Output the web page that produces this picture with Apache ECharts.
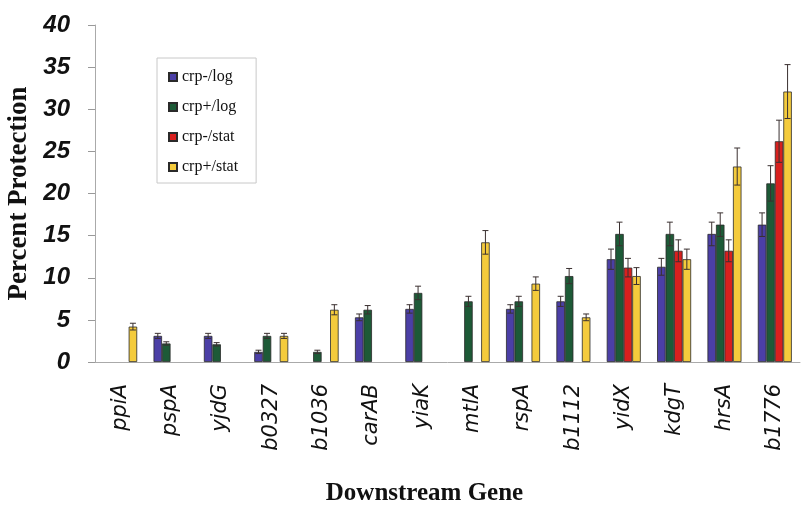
<!DOCTYPE html>
<html>
<head>
<meta charset="utf-8">
<script src="https://cdn.jsdelivr.net/npm/echarts@6/dist/echarts.min.js"></script>
<style>
  html, body { margin: 0; padding: 0; background: #fff; }
  #chart { width: 802px; height: 508px; }
</style>
</head>
<body>
<div id="chart"></div>
<script>
var genes = ['ppiA', 'pspA', 'yjdG', 'b0327', 'b1036', 'carAB', 'yiaK', 'mtlA', 'rspA', 'b1112', 'yidX', 'kdgT', 'hrsA', 'b1776'];
var seriesNames = ['crp-/log', 'crp+/log', 'crp-/stat', 'crp+/stat'];
var yTicks = [0, 5, 10, 15, 20, 25, 30, 35, 40];

// percent protection, null = no bar
var crpMinusLog  = [null, 3.1, 3.1, 1.2, null, 5.3, 6.3, null, 6.3, 7.2, 12.2, 11.3, 15.2, 16.3];
var crpPlusLog   = [null, 2.2, 2.1, 3.1, 1.2, 6.2, 8.2, 7.2, 7.2, 10.2, 15.2, 15.2, 16.3, 21.2];
var crpMinusStat = [null, null, null, null, null, null, null, null, null, null, 11.2, 13.2, 13.2, 26.2];
var crpPlusStat  = [4.2, null, null, 3.1, 6.2, null, null, 14.2, 9.3, 5.3, 10.2, 12.2, 23.2, 32.1];

// error bar half-lengths
var errMinusLog  = [null, 0.3, 0.3, 0.2, null, 0.4, 0.5, null, 0.5, 0.6, 1.2, 1.0, 1.4, 1.4];
var errPlusLog   = [null, 0.2, 0.2, 0.3, 0.2, 0.5, 0.8, 0.6, 0.6, 0.9, 1.4, 1.4, 1.4, 2.1];
var errMinusStat = [null, null, null, null, null, null, null, null, null, null, 1.1, 1.3, 1.3, 2.5];
var errPlusStat  = [0.4, null, null, 0.3, 0.6, null, null, 1.4, 0.8, 0.4, 1.0, 1.2, 2.2, 3.2];

var values = [crpMinusLog, crpPlusLog, crpMinusStat, crpPlusStat];
var errors = [errMinusLog, errPlusLog, errMinusStat, errPlusStat];
var colors = ['#4b3fa6', '#1d5a37', '#d8201e', '#f4cb3c'];

var barW = 8.5;

function errorSeries(k) {
  var data = [];
  for (var i = 0; i < genes.length; i++) {
    if (values[k][i] != null) data.push([i, values[k][i], errors[k][i]]);
  }
  var offset = (k - 1.5) * barW;
  return {
    type: 'custom',
    name: seriesNames[k],
    z: 5,
    silent: true,
    data: data,
    renderItem: function (params, api) {
      var i = api.value(0), v = api.value(1), e = api.value(2);
      var top = api.coord([i, v + e]);
      var bot = api.coord([i, v - e]);
      var x = top[0] + offset;
      var st = { stroke: '#3a3030', lineWidth: 1 };
      return {
        type: 'group',
        children: [
          { type: 'line', shape: { x1: x, y1: top[1], x2: x, y2: bot[1] }, style: st },
          { type: 'line', shape: { x1: x - 3, y1: top[1], x2: x + 3, y2: top[1] }, style: st },
          { type: 'line', shape: { x1: x - 3, y1: bot[1], x2: x + 3, y2: bot[1] }, style: st }
        ]
      };
    }
  };
}

var series = [];
for (var k = 0; k < 4; k++) {
  series.push({
    name: seriesNames[k],
    type: 'bar',
    barWidth: barW,
    barGap: '0%',
    data: values[k].map(function (v) { return v == null ? '-' : v; }),
    itemStyle: { color: colors[k], borderColor: '#2a2a2a', borderWidth: 0.8 }
  });
}
for (var k = 0; k < 4; k++) series.push(errorSeries(k));

var chart = echarts.init(document.getElementById('chart'));
chart.setOption({
  backgroundColor: '#fff',
  animation: false,
  color: colors,
  legend: {
    data: seriesNames,
    orient: 'vertical',
    left: 157,
    top: 58,
    padding: [11, 18, 8, 11],
    itemGap: 14,
    itemWidth: 8,
    itemHeight: 8,
    borderColor: '#c8c8c8',
    borderWidth: 1,
    icon: 'rect',
    textStyle: { fontFamily: 'Liberation Serif', fontSize: 16, color: '#111' }
  },
  grid: { left: 95, right: 2, top: 25, bottom: 146, outerBoundsMode: 'none', containLabel: false },
  xAxis: {
    type: 'category',
    data: genes,
    name: 'Downstream Gene',
    nameLocation: 'middle',
    nameGap: 119,
    nameTextStyle: {
      fontFamily: 'Liberation Serif', fontWeight: 'bold', fontSize: 25, color: '#111',
      padding: [0, 46, 0, 0]
    },
    axisLine: { lineStyle: { color: '#aaa' } },
    axisTick: { length: 6, lineStyle: { color: '#999' } },
    axisLabel: {
      rotate: 90,
      margin: 22,
      padding: [10, 0, 0, 0],
      fontFamily: 'DejaVu Sans',
      fontStyle: 'italic',
      fontSize: 21,
      color: '#111'
    }
  },
  yAxis: {
    type: 'value',
    min: yTicks[0],
    max: yTicks[yTicks.length - 1],
    interval: yTicks[1] - yTicks[0],
    name: 'Percent Protection',
    nameLocation: 'middle',
    nameGap: 57,
    nameTextStyle: { fontFamily: 'Liberation Serif', fontWeight: 'bold', fontSize: 27, color: '#111' },
    splitLine: { show: false },
    axisLine: { show: true, lineStyle: { color: '#aaa' } },
    axisTick: { show: true, length: 7, lineStyle: { color: '#999' } },
    axisLabel: {
      margin: 25,
      fontFamily: 'Liberation Sans',
      fontStyle: 'italic',
      fontWeight: 'bold',
      fontSize: 24,
      color: '#111'
    }
  },
  series: series
});
</script>
</body>
</html>
